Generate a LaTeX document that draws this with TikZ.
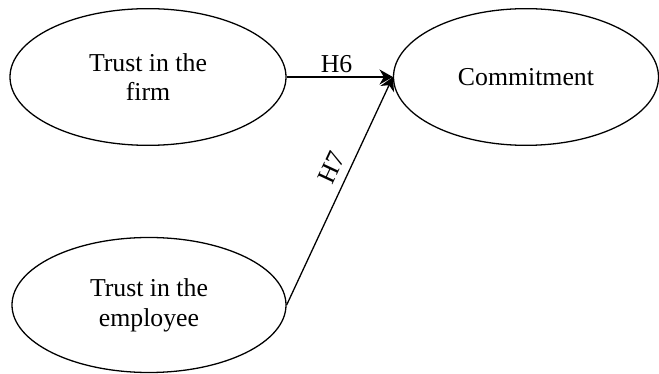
\documentclass[tikz,border=0pt]{standalone}
\usepackage{fontspec}
\setmainfont{Liberation Serif}
\usetikzlibrary{shapes.geometric, arrows.meta}

\tikzset{
    construct/.style={ellipse, draw, line width=1.1pt, inner sep=0pt, align=center,
        font=\fontsize{22}{25.5}\selectfont},
    path/.style={line width=1.1pt, -{Stealth[length=4mm, width=4.5mm]}},
    hyp/.style={font=\fontsize{22}{25.5}\selectfont}
}

\begin{document}
\begin{tikzpicture}[x=0.03cm, y=-0.03cm]
    \useasboundingbox (0, 0) rectangle (659, 374);

    \node[construct, minimum width=8.28cm, minimum height=4.1cm] (firm) at (148, 77) {Trust in the\\firm};
    \node[construct, minimum width=8.22cm, minimum height=4.05cm] (employee) at (149, 305) {Trust in the\\employee};
    \node[construct, minimum width=7.95cm, minimum height=4.1cm] (commit) at (526, 77) {Commitment};

    \draw[path] (firm.east) -- node[hyp, above, pos=0.47] {H6} (commit.west);
    \draw[path] (employee.east) -- node[hyp, sloped, above=4pt, pos=0.57] {H7} (commit.west);
\end{tikzpicture}
\end{document}
